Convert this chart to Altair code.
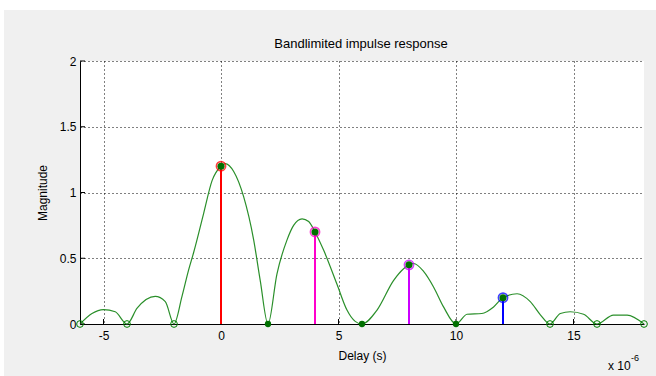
import altair as alt
import pandas as pd

# Magnitude of the band-limited impulse response (delay in microseconds)
curve_t = [-6.0, -5.49, -5.0, -4.5, -4.0, -3.57, -2.8, -2.37, -2.0, -1.66, -1.38,
           -1.17, -0.74, -0.38, 0.0, 0.18, 0.54, 0.96, 1.39, 1.67, 2.0, 2.38, 2.81,
           3.09, 3.45, 3.73, 4.0, 4.37, 4.94, 5.36, 5.71, 6.0, 6.64, 7.34, 7.77,
           8.0, 8.2, 8.62, 9.05, 9.47, 10.0, 10.47, 11.1, 11.6, 12.0, 12.6, 13.16,
           13.59, 14.0, 14.44, 14.86, 15.43, 16.0, 16.7, 17.28, 18.0]
curve_v = [0.0, 0.08, 0.11, 0.093, 0.0, 0.12, 0.21, 0.17, 0.0, 0.21, 0.41,
           0.54, 0.84, 1.09, 1.2, 1.22, 1.16, 0.97, 0.64, 0.33, 0.0, 0.38, 0.64,
           0.75, 0.80, 0.78, 0.70, 0.56, 0.30, 0.106, 0.02, 0.0, 0.106, 0.33, 0.42,
           0.45, 0.46, 0.40, 0.28, 0.13, 0.0, 0.074, 0.08, 0.13, 0.2, 0.23, 0.17,
           0.07, 0.0, 0.08, 0.093, 0.074, 0.0, 0.068, 0.068, 0.0]

# Multipath taps
tap_t = [0, 4, 8, 12]
tap_v = [1.2, 0.7, 0.45, 0.2]
tap_colors = ["#ff0000", "#ff00cc", "#cc00ff", "#0000ff"]

# Sample instants where the response is zero
null_filled_t = [2, 6, 10]
null_open_t = [-6, -4, -2, 14, 16, 18]

x_ticks = [-5, 0, 5, 10, 15]
y_ticks = [0, 0.5, 1, 1.5, 2]

W, H = 564, 263
PAD_L, PAD_T, PAD_R, PAD_B = 80, 61, 12, 52
FONT = "Liberation Sans"
GREEN = "#2a8f2a"

curve_df = pd.DataFrame({"t": curve_t, "v": curve_v})
tap_df = pd.DataFrame({"t": tap_t, "v": tap_v, "c": tap_colors})
nf_df = pd.DataFrame({"t": null_filled_t, "v": [0] * len(null_filled_t)})
no_df = pd.DataFrame({"t": null_open_t, "v": [0] * len(null_open_t)})
xt_df = pd.DataFrame({"t": x_ticks})
yt_df = pd.DataFrame({"v": y_ticks})

xscale = alt.Scale(domain=[-6, 18], nice=False, zero=False)
yscale = alt.Scale(domain=[0, 2], nice=False)

x_axis = alt.Axis(values=x_ticks, title="Delay (s)", grid=True, gridColor="black",
                  gridDash=[1, 3], gridWidth=1, ticks=False, labelPadding=6,
                  labelExpr="toString(datum.value)", titlePadding=9)
y_axis = alt.Axis(values=y_ticks, title="Magnitude", grid=True, gridColor="black",
                  gridDash=[1, 3], gridWidth=1, ticks=False, labelPadding=4,
                  labelExpr="toString(datum.value)", titlePadding=10)

X = alt.X("t:Q", scale=xscale, axis=x_axis)
Y = alt.Y("v:Q", scale=yscale, axis=y_axis)

curve = alt.Chart(curve_df).mark_line(
    color=GREEN, strokeWidth=1.2, interpolate="monotone"
).encode(x=X, y=Y)

stems = alt.Chart(tap_df).mark_rule(strokeWidth=2).encode(
    x=X, y=Y, y2=alt.datum(0), color=alt.Color("c:N", scale=None)
)

tap_ring = alt.Chart(tap_df).mark_point(
    shape="circle", filled=False, size=85, strokeWidth=1.6, opacity=0.75
).encode(x=X, y=Y, color=alt.Color("c:N", scale=None))

tap_dot = alt.Chart(tap_df).mark_circle(size=50, color="#007000", opacity=1).encode(x=X, y=Y)

null_filled = alt.Chart(nf_df).mark_circle(size=40, color="#007000", opacity=1).encode(x=X, y=Y)

null_open = alt.Chart(no_df).mark_point(
    shape="circle", filled=False, size=45, strokeWidth=1, color="#008000", opacity=1
).encode(x=X, y=Y)

# Inward tick marks along the two axis lines
x_tick_marks = alt.Chart(xt_df).mark_rule(color="black", strokeWidth=1).encode(
    x=X, y=alt.value(H), y2=alt.value(H - 5)
)
y_tick_marks = alt.Chart(yt_df).mark_rule(color="black", strokeWidth=1).encode(
    y=Y, x=alt.value(0), x2=alt.value(5)
)

# White strips along the top and left edges of the figure window
strip_top = alt.Chart(xt_df.head(1)).mark_rect(color="white").encode(
    x=alt.value(-PAD_L), x2=alt.value(W + PAD_R),
    y=alt.value(-PAD_T), y2=alt.value(-PAD_T + 10)
)
strip_left = alt.Chart(xt_df.head(1)).mark_rect(color="white").encode(
    x=alt.value(-PAD_L), x2=alt.value(-PAD_L + 4),
    y=alt.value(-PAD_T), y2=alt.value(H + PAD_B)
)

title_txt = alt.Chart(xt_df.head(1)).mark_text(
    text="Bandlimited impulse response", font=FONT, fontSize=13, color="black",
    align="center", baseline="middle"
).encode(x=alt.value(W / 2 - 1), y=alt.value(-17))

exp_base = alt.Chart(xt_df.head(1)).mark_text(
    text="x 10", font=FONT, fontSize=12, color="black", align="left", baseline="middle"
).encode(x=alt.value(528), y=alt.value(305))
exp_pow = alt.Chart(xt_df.head(1)).mark_text(
    text="-6", font=FONT, fontSize=9, color="black", align="left", baseline="middle"
).encode(x=alt.value(551), y=alt.value(297))

chart = alt.layer(
    curve, strip_top, strip_left, x_tick_marks, y_tick_marks, stems, null_filled,
    null_open, tap_ring, tap_dot, title_txt, exp_base, exp_pow
).properties(
    width=W, height=H,
    autosize=alt.AutoSizeParams(type="none"),
    padding={"left": PAD_L, "top": PAD_T, "right": PAD_R, "bottom": PAD_B},
    background="#f0f0f0",
).configure_view(
    stroke=None, fill="white"
).configure_axis(
    domainColor="black", domainWidth=1, labelColor="black", labelFont=FONT,
    labelFontSize=12, titleFont=FONT, titleFontSize=12, titleFontWeight="normal",
    titleColor="black"
)

chart.save("out.html", embed_options={"renderer": "svg", "actions": False})
